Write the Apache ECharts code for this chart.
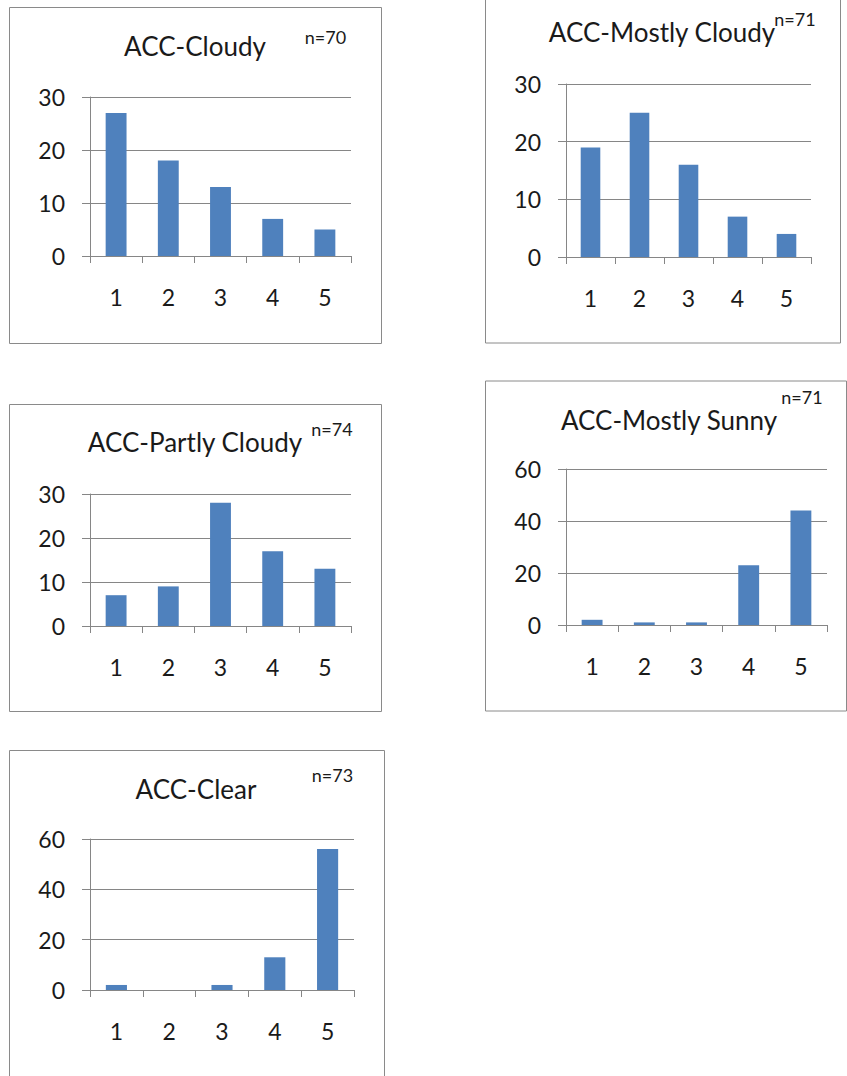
<!DOCTYPE html>
<html>
<head>
<meta charset="utf-8">
<title>ACC</title>
<script src="https://cdn.jsdelivr.net/npm/echarts@6/dist/echarts.min.js"></script>
<style>
  html, body { margin: 0; padding: 0; background: #fff; }
  #chart { width: 847px; height: 1076px; }
</style>
</head>
<body>
<div id="chart"></div>
<script>
// Response categories shared by every panel
const categories = ['1', '2', '3', '4', '5'];

// Counts per category for each sky condition
const cloudy = [27, 18, 13, 7, 5];
const mostlyCloudy = [19, 25, 16, 7, 4];
const partlyCloudy = [7, 9, 28, 17, 13];
const mostlySunny = [2, 1, 1, 23, 44];
const clear = [2, 0, 2, 13, 56];

const panelTitles = ['ACC-Cloudy', 'ACC-Mostly Cloudy', 'ACC-Partly Cloudy', 'ACC-Mostly Sunny', 'ACC-Clear'];
const sampleSizes = ['n=70', 'n=71', 'n=74', 'n=71', 'n=73'];
const yMax = [30, 30, 30, 60, 60];
const yStep = [10, 10, 10, 20, 20];

const seriesData = [cloudy, mostlyCloudy, partlyCloudy, mostlySunny, clear];

// Layout of each panel: plot area, outer frame, title and sample-size label
const panels = [
  { grid: [90, 97, 261, 159],    frame: [9.5, 7.5, 372, 336],   title: [195, 45.5],  n: [325.5, 37] },
  { grid: [566, 84, 245, 173],   frame: [485.5, -5, 355, 348],  title: [662, 32],    n: [795, 18.5] },
  { grid: [90, 494, 261, 132],   frame: [9.5, 404.5, 372, 307], title: [195, 442],   n: [332, 429] },
  { grid: [566, 469, 261, 156],  frame: [485.5, 381, 361, 330], title: [669, 420],   n: [802, 396.5] },
  { grid: [90, 839, 264, 151],   frame: [9.5, 750.5, 375, 340], title: [196, 788.5], n: [332.5, 774.5] }
];

const FONT = 'Lato, "Open Sans", sans-serif';
const TEXT = '#1a1a1a';
const AXIS = '#868686';
const BAR = '#4f81bd';

const grids = [], xAxes = [], yAxes = [], series = [], graphics = [];

panels.forEach((p, i) => {
  grids.push({
    left: p.grid[0], top: p.grid[1], width: p.grid[2], height: p.grid[3],
    containLabel: false, outerBoundsMode: 'none'
  });
  xAxes.push({
    type: 'category', gridIndex: i, data: categories,
    axisLine: { show: true, lineStyle: { color: AXIS, width: 1 } },
    axisTick: { show: true, length: 7, lineStyle: { color: AXIS, width: 1 } },
    axisLabel: { color: TEXT, fontFamily: FONT, fontSize: 23, margin: 29 },
    splitLine: { show: false }
  });
  yAxes.push({
    type: 'value', gridIndex: i, min: 0, max: yMax[i], interval: yStep[i],
    axisLine: { show: true, lineStyle: { color: AXIS, width: 1 } },
    axisTick: { show: true, length: 8, lineStyle: { color: AXIS, width: 1 } },
    axisLabel: { color: TEXT, fontFamily: FONT, fontSize: 23, margin: 25 },
    splitLine: { show: true, lineStyle: { color: AXIS, width: 1 } }
  });
  series.push({
    type: 'bar', xAxisIndex: i, yAxisIndex: i, data: seriesData[i],
    barWidth: '40%', itemStyle: { color: BAR }, silent: true
  });
  graphics.push({
    type: 'rect', z: -10, silent: true,
    shape: { x: p.frame[0], y: p.frame[1], width: p.frame[2], height: p.frame[3] },
    style: { fill: 'none', stroke: '#8a8a8a', lineWidth: 1 }
  });
  graphics.push({
    type: 'text', silent: true, x: p.title[0], y: p.title[1],
    style: { text: panelTitles[i], fill: TEXT, font: '26px ' + FONT, textAlign: 'center', textVerticalAlign: 'middle' }
  });
  graphics.push({
    type: 'text', silent: true, x: p.n[0], y: p.n[1],
    style: { text: sampleSizes[i], fill: TEXT, font: '18px ' + FONT, textAlign: 'center', textVerticalAlign: 'middle' }
  });
});

const chart = echarts.init(document.getElementById('chart'), null, { renderer: 'svg' });
chart.setOption({
  animation: false,
  backgroundColor: '#fff',
  grid: grids,
  xAxis: xAxes,
  yAxis: yAxes,
  series: series,
  graphic: graphics
});
</script>
</body>
</html>
